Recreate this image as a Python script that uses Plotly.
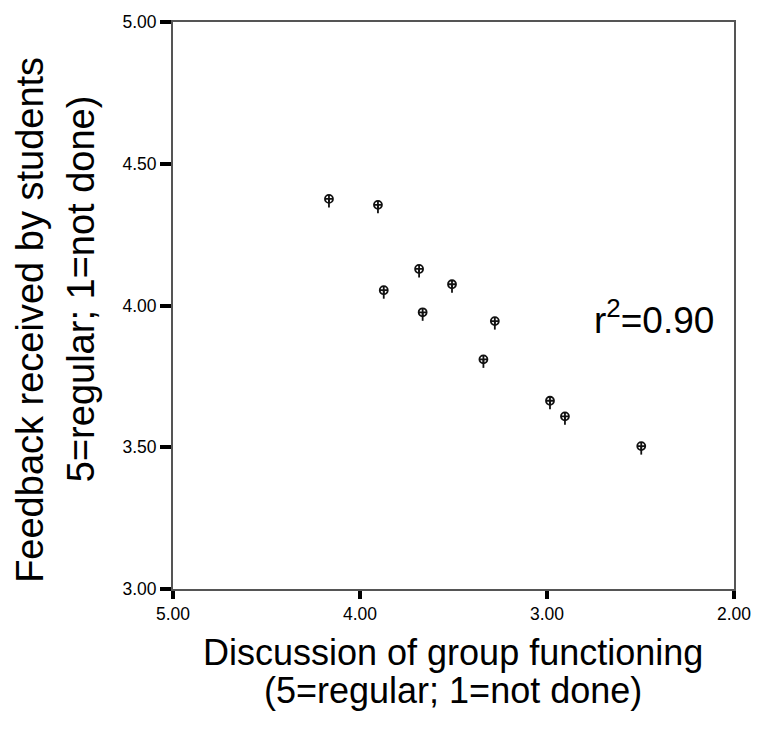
import plotly.graph_objects as go

# Data
discussion = [4.166, 3.904, 3.684, 3.508, 3.873, 3.665, 3.279, 3.340, 2.984, 2.904, 2.496]
feedback = [4.376, 4.355, 4.129, 4.075, 4.054, 3.976, 3.945, 3.810, 3.664, 3.609, 3.504]
tick_vals = [2.0, 3.0, 4.0, 5.0]
y_tick_vals = [3.0, 3.5, 4.0, 4.5, 5.0]
r2_label = "r<sup>2</sup>=0.90"
x_title_lines = ["Discussion of group functioning", "(5=regular; 1=not done)"]
y_title_lines = ["Feedback received by students", "5=regular; 1=not done)"]

FONT = "Liberation Sans, Arial, sans-serif"

W, H = 763, 734
L, R, T, B = 173, 17, 14, 145
PX0, PY0, PW, PH = L, T, W - L - R, H - T - B


def px_to_paper_x(px):
    return (px - PX0) / PW


def py_to_paper_y(py):
    return (PY0 + PH - py) / PH


fig = go.Figure()
fig.add_trace(go.Scatter(
    x=discussion, y=feedback, mode="markers",
    marker=dict(symbol="circle-cross-open", size=8, color="#111",
                line=dict(width=1.8, color="#111")),
    error_y=dict(type="data", symmetric=False, array=[0] * len(feedback),
                 arrayminus=[0.03] * len(feedback), width=0,
                 color="#111", thickness=1.8),
    showlegend=False,
    hoverinfo="skip",
))

annotations = [
    dict(text=r2_label, x=px_to_paper_x(664), y=py_to_paper_y(314),
         xref="paper", yref="paper",
         showarrow=False, xanchor="center", yanchor="middle",
         font=dict(size=37, family=FONT, color="black")),
]
for line, cy in zip(x_title_lines, [653, 692]):
    annotations.append(dict(
        text=line, x=px_to_paper_x(459), y=py_to_paper_y(cy),
        xref="paper", yref="paper", showarrow=False,
        xanchor="center", yanchor="middle",
        font=dict(size=36, family=FONT, color="black")))
for line, cx, cy in zip(y_title_lines, [27, 79], [316, 284]):
    annotations.append(dict(
        text=line, x=px_to_paper_x(cx), y=py_to_paper_y(cy),
        xref="paper", yref="paper", showarrow=False,
        xanchor="center", yanchor="middle", textangle=-90,
        font=dict(size=38, family=FONT, color="black")))

axis_common = dict(
    showgrid=False, zeroline=False,
    showline=True, linecolor="#555", linewidth=2, mirror=True,
    ticks="outside", tickwidth=4, tickcolor="black",
    ticklabeloverflow="allow",
    tickfont=dict(size=17.5, family=FONT, color="black"),
)

fig.update_layout(
    width=W, height=H,
    margin=dict(l=L, r=R, t=T, b=B),
    plot_bgcolor="white", paper_bgcolor="white",
    font=dict(family=FONT, color="black"),
    xaxis=dict(range=[5, 2], tickvals=tick_vals,
               ticktext=[f"{v:.2f}" for v in tick_vals],
               ticklen=8, **axis_common),
    yaxis=dict(range=[3, 5], tickvals=y_tick_vals,
               ticktext=[f"{v:.2f}" for v in y_tick_vals],
               ticklen=11, **axis_common),
    annotations=annotations,
)

# remove the browser's default 8px body margin so the figure fills the window
fig.write_html("out.html",
               config={"displayModeBar": False},
               post_script="document.body.style.margin='0';"
                           "document.body.style.overflow='hidden';")
